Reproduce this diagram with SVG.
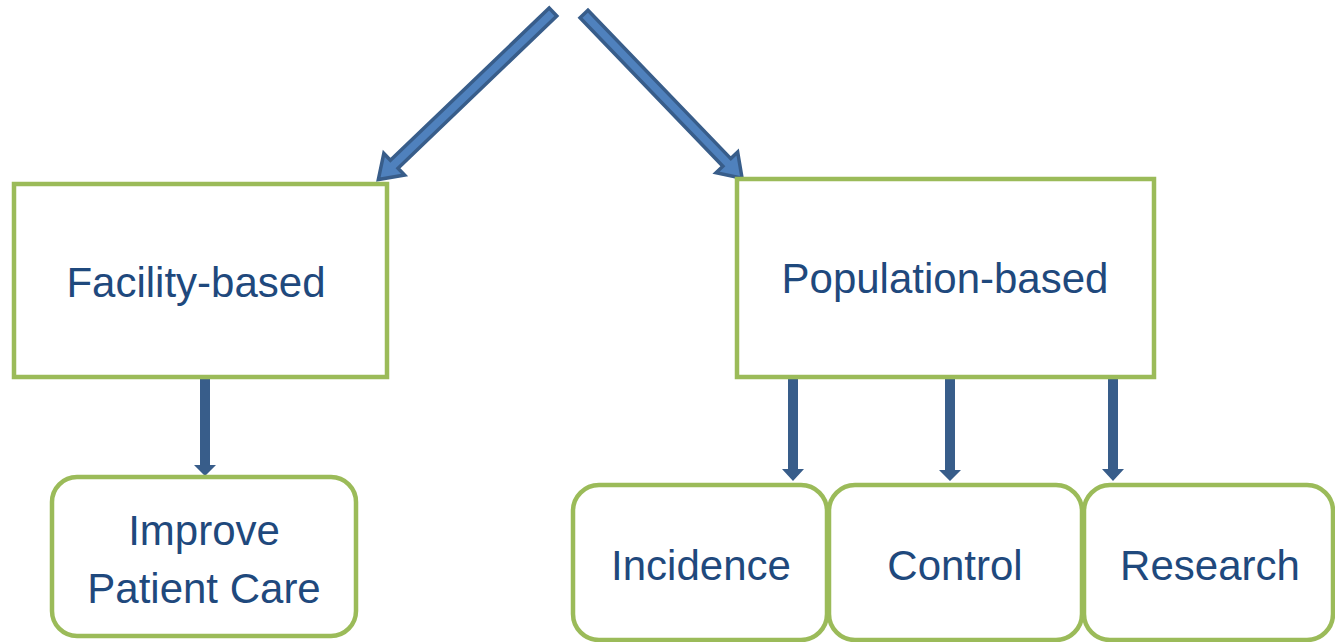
<svg xmlns="http://www.w3.org/2000/svg" width="1335" height="642" viewBox="0 0 1335 642">
<style>
.box{fill:#fff;stroke:#9BBB59;stroke-width:4.5}
.lbl{font-family:"Liberation Sans",Arial,sans-serif;font-size:42px;fill:#1F497D;text-anchor:middle}
.big{fill:#4F81BD;stroke:#385D8A;stroke-width:3.5;stroke-linejoin:miter}
.down{fill:#385D8A}
</style>
<g id="connectors">
<polygon class="big" transform="translate(553,12) rotate(136.2)" points="0,-5.5 220,-5.5 220,-15 242,0 220,15 220,5.5 0,5.5"/>
<polygon class="big" transform="translate(584,14) rotate(46.1)" points="0,-5.5 206,-5.5 206,-15 228,0 206,15 206,5.5 0,5.5"/>
<polygon class="down" points="200,376 210,376 210,465 216,465 205,476 194,465 200,465"/>
<polygon class="down" points="788,377 798,377 798,469 804,469 793,481 782,469 788,469"/>
<polygon class="down" points="945,378 955,378 955,470 961,470 950,481 939,470 945,470"/>
<polygon class="down" points="1108,377 1118,377 1118,469 1124,469 1113,481 1102,469 1108,469"/>
</g>
<g id="facility">
<rect class="box" x="14" y="184" width="373" height="193"/>
<text class="lbl" x="196" y="297">Facility-based</text>
</g>
<g id="population">
<rect class="box" x="737" y="179" width="417" height="198"/>
<text class="lbl" x="945" y="293">Population-based</text>
</g>
<g id="improve">
<rect class="box" x="52" y="477" width="304" height="159" rx="25"/>
<text class="lbl" x="204" y="545">Improve</text>
<text class="lbl" x="204" y="603">Patient Care</text>
</g>
<g id="incidence">
<rect class="box" x="573" y="485" width="254" height="155" rx="26"/>
<text class="lbl" x="701" y="580">Incidence</text>
</g>
<g id="control">
<rect class="box" x="829" y="485" width="253" height="155" rx="26"/>
<text class="lbl" x="955" y="580">Control</text>
</g>
<g id="research">
<rect class="box" x="1084" y="485" width="249" height="155" rx="26"/>
<text class="lbl" x="1210" y="580">Research</text>
</g>
</svg>
